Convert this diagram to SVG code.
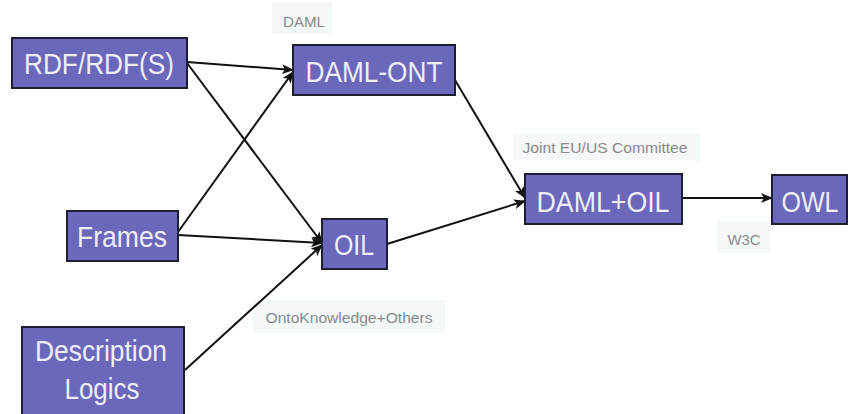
<svg xmlns="http://www.w3.org/2000/svg" width="848" height="414" viewBox="0 0 848 414">
<style>
.box{fill:#6b67bb;stroke:#1e1e33;stroke-width:2}
.t{font-family:"Liberation Sans",Arial,sans-serif;font-size:30px;fill:#eeeef8;text-anchor:middle}
.lbg{fill:#f5f8f8}
.lt{font-family:"Liberation Sans",Arial,sans-serif;font-size:15px;fill:#8a8a8a;text-anchor:middle}
.c{stroke:#111;stroke-width:2;fill:none;marker-end:url(#ah)}
</style>
<defs>
<marker id="ah" viewBox="0 0 12 10" refX="11" refY="5" markerWidth="12" markerHeight="10" markerUnits="userSpaceOnUse" orient="auto">
<path d="M0,0 L12,5 L0,10 L3,5 z" fill="#111"/>
</marker>
</defs>
<rect width="848" height="414" fill="#ffffff"/>
<g id="labels">
<rect class="lbg" x="272" y="2" width="60" height="32"/>
<text class="lt" x="304" y="27" textLength="42" lengthAdjust="spacingAndGlyphs">DAML</text>
<rect class="lbg" x="514" y="133" width="186" height="28"/>
<text class="lt" x="605" y="153" textLength="165" lengthAdjust="spacingAndGlyphs">Joint EU/US Committee</text>
<rect class="lbg" x="717" y="221" width="53" height="32"/>
<text class="lt" x="744" y="245" textLength="33" lengthAdjust="spacingAndGlyphs">W3C</text>
<rect class="lbg" x="253" y="300" width="192" height="33"/>
<text class="lt" x="349" y="323" textLength="167" lengthAdjust="spacingAndGlyphs">OntoKnowledge+Others</text>
</g>
<g id="connectors">
<line class="c" x1="187" y1="62" x2="293" y2="70"/>
<line class="c" x1="187" y1="63" x2="322" y2="243"/>
<line class="c" x1="178" y1="232" x2="293" y2="72"/>
<line class="c" x1="178" y1="235" x2="322" y2="243"/>
<line class="c" x1="185" y1="370" x2="322" y2="245"/>
<line class="c" x1="455" y1="80" x2="525" y2="198"/>
<line class="c" x1="387" y1="244" x2="525" y2="201"/>
<line class="c" x1="682" y1="198" x2="772" y2="198"/>
</g>
<g id="rdf">
<rect class="box" x="12" y="38" width="175" height="50"/>
<text class="t" x="99" y="74" textLength="150" lengthAdjust="spacingAndGlyphs">RDF/RDF(S)</text>
</g>
<g id="daml-ont">
<rect class="box" x="293" y="45" width="162" height="50"/>
<text class="t" x="374" y="82" textLength="137" lengthAdjust="spacingAndGlyphs">DAML-ONT</text>
</g>
<g id="frames">
<rect class="box" x="67" y="211" width="111" height="50"/>
<text class="t" x="122" y="247" textLength="90" lengthAdjust="spacingAndGlyphs">Frames</text>
</g>
<g id="oil">
<rect class="box" x="322" y="219" width="65" height="50"/>
<text class="t" x="354" y="255" textLength="40" lengthAdjust="spacingAndGlyphs">OIL</text>
</g>
<g id="dl">
<rect class="box" x="22" y="327" width="162" height="92"/>
<text class="t" x="101" y="361" textLength="132" lengthAdjust="spacingAndGlyphs">Description</text>
<text class="t" x="102" y="399" textLength="75" lengthAdjust="spacingAndGlyphs">Logics</text>
</g>
<g id="daml-oil">
<rect class="box" x="525" y="174" width="157" height="50"/>
<text class="t" x="603" y="212" textLength="133" lengthAdjust="spacingAndGlyphs">DAML+OIL</text>
</g>
<g id="owl">
<rect class="box" x="772" y="175" width="75" height="49"/>
<text class="t" x="810" y="212" textLength="57" lengthAdjust="spacingAndGlyphs">OWL</text>
</g>
</svg>
